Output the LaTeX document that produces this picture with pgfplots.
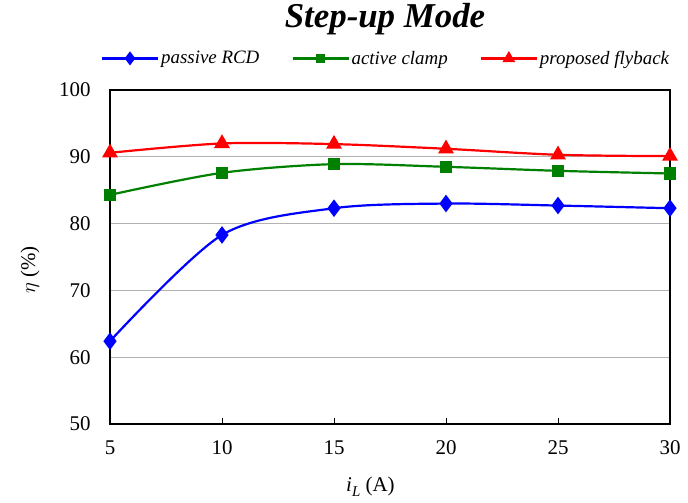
\documentclass[border=0pt]{standalone}
\usepackage{fontspec}
\setmainfont{Liberation Serif}
\usepackage{pgfplots}
\pgfplotsset{compat=1.18}
\definecolor{cblue}{RGB}{0,0,255}
\definecolor{cgreen}{RGB}{0,128,0}
\definecolor{cred}{RGB}{255,0,0}
\begin{document}
\begin{tikzpicture}
\path[use as bounding box] (-110bp,-79bp) rectangle (578bp,424bp);
\begin{axis}[
  at={(0,0)}, anchor=south west,
  scale only axis, width=560bp, height=334bp,
  xmin=5, xmax=30, ymin=50, ymax=100,
  xtick={5,10,...,30}, ytick={50,60,...,100},
  xtick pos=bottom, ytick pos=left,
  xtick align=inside,
  major tick length=6bp,
  ytick style={draw=none},
  xtick style={black, line width=0.8bp},
  axis line style={black, line width=1.6bp},
  ymajorgrids,
  grid style={gray!60, line width=0.8bp},
  /pgf/number format/assume math mode=true,
  tick label style={font=\fontsize{21}{25}\selectfont},
  yticklabel style={xshift=-16bp},
  xticklabel style={yshift=-13bp},
  xlabel={{\itshape i}\raisebox{-0.55ex}{\fontsize{15}{15}\selectfont\itshape L}\ (A)},
  label style={font=\fontsize{21}{25}\selectfont},
  xlabel style={at={(rel axis cs:0.465,0)}, anchor=center, yshift=-63bp},
  legend columns=3,
  legend style={at={(0.5,1)}, anchor=south, yshift=20bp, xshift=-4bp, draw=none, fill=none,
    font=\fontsize{19}{22}\selectfont\itshape,
    /tikz/every even column/.append style={column sep=30bp}},
  legend image code/.code={%
    \draw[#1,mark=none,line width=2.2bp] (0bp,0bp) -- (56bp,0bp);
    \draw[#1,mark options={solid,scale=0.75}] plot coordinates {(28bp,0bp)};},
]
\addplot[cblue, line width=2.2bp, smooth, mark=diamond*, mark size=7bp, mark options={solid}]
  coordinates {(5,62.4)(10,78.3)(15,82.3)(20,83.0)(25,82.7)(30,82.3)};
\addlegendentry{passive RCD}
\addplot[cgreen, line width=2.2bp, smooth, mark=square*, mark size=5bp, mark options={solid}]
  coordinates {(5,84.3)(10,87.6)(15,88.9)(20,88.5)(25,87.9)(30,87.5)};
\addlegendentry{active clamp}
\addplot[cred, line width=2.2bp, smooth, mark=triangle*, mark size=7bp, mark options={solid}]
  coordinates {(5,90.6)(10,92.0)(15,91.9)(20,91.2)(25,90.3)(30,90.1)};
\addlegendentry{proposed flyback}
\end{axis}
\node[rotate=90, font=\fontsize{21}{25}\selectfont] at (-80bp,154bp) {$\eta$\ (\%)};
\node[font=\fontsize{35}{38}\selectfont\bfseries\itshape] at (275bp,405bp) {Step-up Mode};
\end{tikzpicture}
\end{document}
